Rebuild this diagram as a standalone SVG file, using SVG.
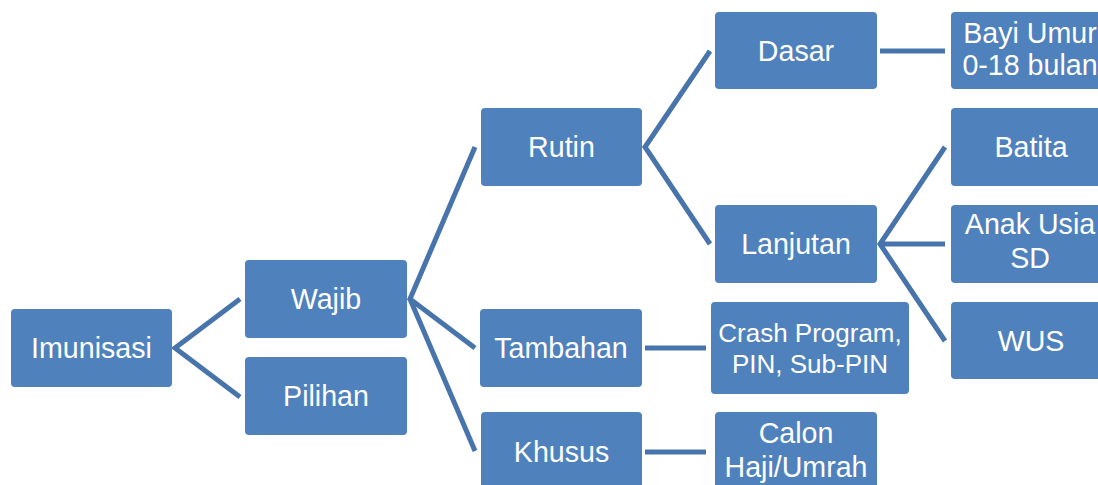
<svg xmlns="http://www.w3.org/2000/svg" width="1098" height="485" viewBox="0 0 1098 485">
<style>
.box{fill:#4f81bd;}
.t{fill:#ffffff;font-family:"Liberation Sans",Arial,sans-serif;font-size:28.6px;text-anchor:middle;}
.s{font-size:26px;}
.c{stroke:#4874ac;stroke-width:5;fill:none;stroke-linejoin:miter;}
</style>
<rect width="1098" height="485" fill="#ffffff"/>
<g id="connectors">
<path class="c" d="M240,299 L175,348 L240,397"/>
<path class="c" d="M475,147 L410,299 L475,348 M410,299 L475,451"/>
<path class="c" d="M710,51 L645,147 L710,244"/>
<path class="c" d="M880,51 L945,51"/>
<path class="c" d="M945,147 L880,244 L945,341 M880,244 L945,244"/>
<path class="c" d="M645,348 L706,348"/>
<path class="c" d="M645,452 L706,452"/>
</g>
<g id="imunisasi"><rect class="box" x="11" y="309" width="161" height="78" rx="4"/><text class="t" x="91.5" y="358">Imunisasi</text></g>
<g id="wajib"><rect class="box" x="245" y="260" width="162" height="78" rx="4"/><text class="t" x="326" y="309">Wajib</text></g>
<g id="pilihan"><rect class="box" x="245" y="357" width="162" height="78" rx="4"/><text class="t" x="326" y="406">Pilihan</text></g>
<g id="rutin"><rect class="box" x="481" y="108" width="161" height="78" rx="4"/><text class="t" x="561.5" y="157">Rutin</text></g>
<g id="tambahan"><rect class="box" x="480" y="309" width="162" height="78" rx="4"/><text class="t" x="561" y="358">Tambahan</text></g>
<g id="khusus"><rect class="box" x="481" y="412" width="161" height="80" rx="4"/><text class="t" x="561.5" y="462">Khusus</text></g>
<g id="dasar"><rect class="box" x="715" y="12" width="162" height="77" rx="4"/><text class="t" x="796" y="61">Dasar</text></g>
<g id="lanjutan"><rect class="box" x="715" y="205" width="162" height="78" rx="4"/><text class="t" x="796" y="254">Lanjutan</text></g>
<g id="crash"><rect class="box" x="711" y="302" width="198" height="92" rx="4"/><text class="t s" x="810" y="342">Crash Program,</text><text class="t s" x="810" y="373">PIN, Sub-PIN</text></g>
<g id="calon"><rect class="box" x="715" y="412" width="162" height="80" rx="4"/><text class="t" x="796" y="443">Calon</text><text class="t" x="796" y="477">Haji/Umrah</text></g>
<g id="bayi"><rect class="box" x="951" y="12" width="162" height="77" rx="4"/><text class="t" x="1030" y="43">Bayi Umur</text><text class="t" x="1030" y="75">0-18 bulan</text></g>
<g id="batita"><rect class="box" x="951" y="108" width="162" height="78" rx="4"/><text class="t" x="1031" y="157">Batita</text></g>
<g id="anak"><rect class="box" x="951" y="205" width="162" height="78" rx="4"/><text class="t" x="1030" y="234">Anak Usia</text><text class="t" x="1030" y="268">SD</text></g>
<g id="wus"><rect class="box" x="951" y="302" width="162" height="77" rx="4"/><text class="t" x="1031" y="351">WUS</text></g>
</svg>
